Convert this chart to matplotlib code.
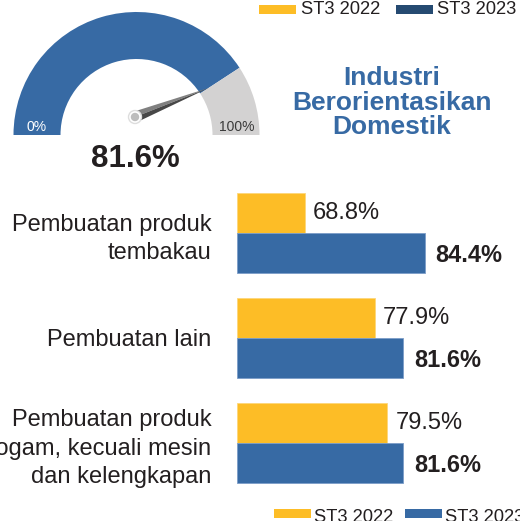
import numpy as np
import matplotlib
matplotlib.use('Agg')
import matplotlib.pyplot as plt
from matplotlib.patches import Wedge, Rectangle, Polygon, Circle

plt.rcParams['font.family'] = ['Liberation Sans', 'DejaVu Sans']

categories = ['Pembuatan produk\ntembakau', 'Pembuatan lain',
              'Pembuatan produk\nlogam, kecuali mesin\ndan kelengkapan']
st3_2022 = [68.8, 77.9, 79.5]
st3_2023 = [84.4, 81.6, 81.6]
gauge_value = 81.6
series_names = ['ST3 2022', 'ST3 2023']

yellow = '#FDBD26'
blue = '#376AA4'
navy = '#254A71'
grey = '#D3D2D2'
dark = '#231F20'

W, H = 520, 521
fig = plt.figure(figsize=(W / 100, H / 100), dpi=100)

# overlay axes in pixel units (y up)
bg = fig.add_axes([0, 0, 1, 1])
bg.set_xlim(0, W)
bg.set_ylim(0, H)
bg.axis('off')

# gauge
cx, cy = 136.5, H - 135
r_out, r_in = 123, 76
ang = 180 - gauge_value / 100 * 180
bg.add_patch(Wedge((cx, cy), r_out, ang, 180, width=r_out - r_in, color=blue, lw=0))
bg.add_patch(Wedge((cx, cy), r_out, 0, ang, width=r_out - r_in, color=grey, lw=0))

# needle
px, py = 135, H - 117
tip = np.array([cx + 86 * np.cos(np.radians(ang)), cy + 86 * np.sin(np.radians(ang))])
d = tip - np.array([px, py])
n = np.array([-d[1], d[0]]) / np.hypot(*d)
bg.add_patch(Polygon([[px, py], [px + 5.5 * n[0], py + 5.5 * n[1]], tip], color='#808080', lw=0))
bg.add_patch(Polygon([[px, py], [px - 5.5 * n[0], py - 5.5 * n[1]], tip], color='#474747', lw=0))
bg.add_patch(Circle((px, py), 6.5, facecolor='white', edgecolor='#dddddd', lw=1, zorder=5))
bg.add_patch(Circle((px, py), 3.5, color='#bdbdbd', zorder=6))

bg.text(37, H - 127, '0%', color='white', fontsize=10, ha='center', va='center')
bg.text(237, H - 127, '100%', color='#3a3a3a', fontsize=10, ha='center', va='center')
bg.text(135, H - 159, f'{gauge_value}%', color=dark, fontsize=22.5, fontweight='bold',
        ha='center', va='center')

# title
for txt, yy in [('Industri', 78), ('Berorientasikan', 103), ('Domestik', 127)]:
    bg.text(392, H - yy, txt, color=blue, fontsize=19, fontweight='bold',
            ha='center', va='center')

# top legend
bg.add_patch(Rectangle((259, H - 14), 37, 9, color=yellow, lw=0))
bg.text(301, H - 10, series_names[0], color=dark, fontsize=13.2, va='center')
bg.add_patch(Rectangle((396, H - 14), 37, 9, color=navy, lw=0))
bg.text(437, H - 10, series_names[1], color=dark, fontsize=13.2, va='center')

# bottom legend
bg.add_patch(Rectangle((274, H - 518), 37, 9, color=yellow, lw=0))
bg.text(314, H - 517, series_names[0], color=dark, fontsize=13.2, va='center')
bg.add_patch(Rectangle((405, H - 518), 37, 9, color=blue, lw=0))
bg.text(445, H - 517, series_names[1], color=dark, fontsize=13.2, va='center')

# bar chart
top_px, bot_px = 180, 500
ax = fig.add_axes([237 / W, 1 - bot_px / H, (W - 237) / W, (bot_px - top_px) / H])
ax.patch.set_alpha(0)
px_per_unit = 105.0
ax.set_ylim((bot_px - 233) / px_per_unit, (top_px - 233) / px_per_unit)
xmin = 60.0
ax.set_xlim(xmin, xmin + (W - 237) / 7.69)

y = np.arange(len(categories))
h = 40 / px_per_unit
ax.barh(y - h / 2, np.array(st3_2022) - xmin, left=xmin, height=h, color=yellow,
        edgecolor='#fdd77a', lw=0.6)
ax.barh(y + h / 2, np.array(st3_2023) - xmin, left=xmin, height=h, color=blue,
        edgecolor='#7b9dc8', lw=0.6)

for yi, v in zip(y, st3_2022):
    ax.annotate(f'{v}%', (v, yi - h / 2), xytext=(6, 0), textcoords='offset points',
                ha='left', va='center', fontsize=17, color=dark)
for yi, v in zip(y, st3_2023):
    ax.annotate(f'{v}%', (v, yi + h / 2 + 0.025), xytext=(8, 0), textcoords='offset points',
                ha='left', va='center', fontsize=17, fontweight='bold', color=dark)

ax.set_yticks(y)
ax.set_yticklabels(categories, fontsize=17, color=dark, linespacing=1.38)
ax.tick_params(axis='y', length=0, pad=18.5)
ax.set_xticks([])
for s in ax.spines.values():
    s.set_visible(False)

fig.savefig('out.png', dpi=100)
